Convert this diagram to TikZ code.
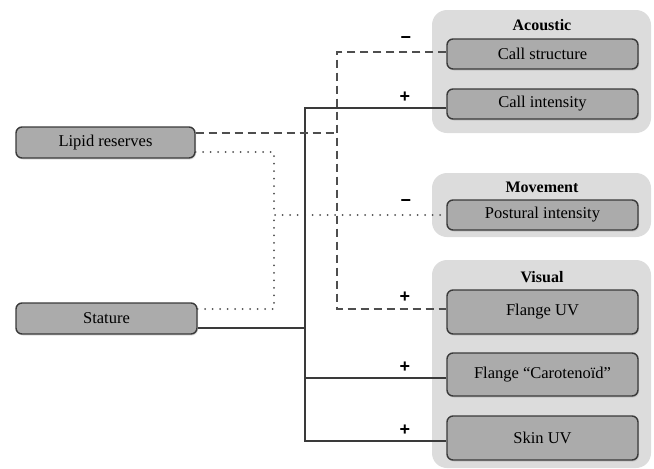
\documentclass[tikz,border=0pt]{standalone}
\usepackage{fontspec}
\setmainfont{Liberation Serif}
\setsansfont{Liberation Sans}
\usetikzlibrary{calc,positioning,shadows}
\definecolor{boxgray}{HTML}{ABABAB}
\definecolor{groupgray}{HTML}{DCDCDC}
\definecolor{linegray}{HTML}{3A3A3A}

\begin{document}
\begin{tikzpicture}[x=1pt,y=-1pt,
  trait/.style={draw=linegray, fill=boxgray, rounded corners=6pt, line width=1.4pt,
    minimum width=191pt, minimum height=30pt, inner sep=0pt,
    drop shadow={opacity=0.25, shadow xshift=1pt, shadow yshift=-1.5pt},
    font=\fontsize{16.5}{18}\selectfont},
  group/.style={fill=groupgray, rounded corners=15pt},
  grouptitle/.style={font=\fontsize{16}{18}\selectfont\bfseries},
  sign/.style={font=\fontsize{18}{20}\selectfont\sffamily\bfseries, inner sep=0pt},
  solidline/.style={draw=linegray, line width=1.5pt},
  dashline/.style={draw=linegray!90, line width=1.7pt, dash pattern=on 8pt off 5pt},
  dotline/.style={draw=linegray!90, line width=2pt, dash pattern=on 0pt off 7.5pt, line cap=round}]
\useasboundingbox (0,0) rectangle (654,469);
\fill[group] (432,10) rectangle (651,133);
\fill[group] (432,173) rectangle (651,237);
\fill[group] (432,260) rectangle (651,468);
\node[grouptitle] (acoustic) at (542,25) {Acoustic};
\node[grouptitle] (movement) at (542,187) {Movement};
\node[grouptitle] (visual) at (542,277) {Visual};
\node[trait, minimum width=179pt, minimum height=31pt] (lipid) at (105.5,142.5) {Lipid reserves};
\node[trait, minimum width=181pt, minimum height=31pt] (stature) at (106.5,318.5) {Stature};
\node[trait] (callstruct) at (542.5,54) {Call structure};
\node[trait] (callint) at (542.5,104) {Call intensity};
\node[trait] (postural) at (542.5,215) {Postural intensity};
\node[trait, minimum height=44pt] (flangeuv) at (542.5,312) {Flange UV};
\node[trait, minimum height=43pt] (carot) at (542.5,374.5) {Flange “Carotenoïd”};
\node[trait, minimum height=44pt] (skinuv) at (542.5,438) {Skin UV};
\coordinate (dotx) at (274,0);
\coordinate (solx) at (305,0);
\coordinate (dashx) at (337,0);
\draw[dotline] ([yshift=-9.5pt]lipid.east) -| (dotx |- postural.west) -- (postural.west);
\draw[dotline] ([yshift=9.5pt]stature.east) -| (dotx |- postural.west);
\draw[solidline] ([yshift=-4pt]callint.west) -| ([yshift=-3pt]solx |- skinuv.west)
  -- ([yshift=-3pt]skinuv.west);
\draw[solidline] ([yshift=-9.5pt]stature.east) -- ([yshift=-9.5pt]solx |- stature.east);
\draw[solidline] ([yshift=-3.5pt]carot.west) -- ([yshift=-3.5pt]solx |- carot.west);
\draw[dashline] ([yshift=2pt]callstruct.west) -| ([yshift=3pt]dashx |- flangeuv.west)
  -- ([yshift=3pt]flangeuv.west);
\draw[dashline] ([yshift=9.5pt]lipid.east) -- ([yshift=9.5pt]dashx |- lipid.east);
\node[sign] (sgstruct) at (406,40) {−};
\node[sign] (sgint) at (405,97) {+};
\node[sign] (sgpost) at (406,203) {−};
\node[sign] (sgflange) at (405,297) {+};
\node[sign] (sgcarot) at (405,367) {+};
\node[sign] (sgskin) at (405,430) {+};
\end{tikzpicture}
\end{document}
